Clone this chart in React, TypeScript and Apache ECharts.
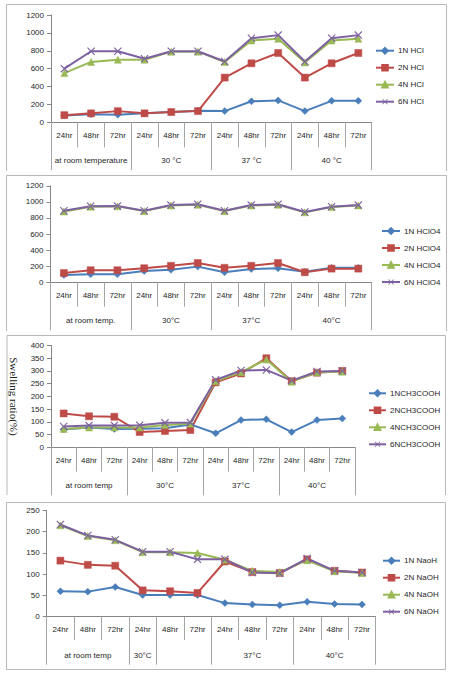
import React, { useEffect, useRef } from "react";
import * as echarts from "echarts";

// ---------- data ----------
const hours = ["24hr", "48hr", "72hr", "24hr", "48hr", "72hr", "24hr", "48hr", "72hr", "24hr", "48hr", "72hr"];

const groupsHCl = ["", "at room temperature", "", "", "30 °C", "", "", "37 °C", "", "", "40 °C", ""];
const groupsHClO4 = ["", "at room temp.", "", "", "30°C", "", "", "37°C", "", "", "40°C", ""];
const groupsCH3 = ["", "at room temp", "", "", "30°C", "", "", "37°C", "", "", "40°C", ""];
const groupsNaOH = ["", "at room temp", "", "30°C", "", "", "", "37°C", "", "", "40°C", ""];
const boundsStd = [0, 3, 6, 9];
const boundsNaOH = [0, 3, 4, 6, 9];

const namesHCl = ["1N HCl", "2N HCl", "4N HCl", "6N HCl"];
const hcl1 = [75, 90, 85, 100, 115, 130, 125, 235, 245, 125, 240, 240];
const hcl2 = [80, 100, 125, 100, 115, 125, 500, 660, 775, 500, 660, 775];
const hcl4 = [550, 675, 700, 700, 790, 790, 675, 915, 935, 670, 915, 935];
const hcl6 = [600, 795, 795, 710, 795, 795, 680, 940, 975, 680, 940, 975];

const namesHClO4 = ["1N HClO4", "2N HClO4", "4N HClO4", "6N HClO4"];
const hclo41 = [90, 100, 100, 140, 155, 195, 125, 165, 175, 130, 180, 180];
const hclo42 = [115, 150, 150, 175, 205, 240, 180, 205, 240, 125, 170, 170];
const hclo44 = [880, 940, 945, 885, 955, 965, 885, 955, 965, 870, 935, 955];
const hclo46 = [890, 945, 950, 890, 960, 970, 890, 960, 970, 875, 940, 960];

const namesCH3 = ["1NCH3COOH", "2NCH3COOH", "4NCH3COOH", "6NCH3COOH"];
const ch1 = [70, 78, 72, 73, 75, 90, 55, 107, 110, 60, 107, 113];
const ch2 = [133, 122, 120, 60, 64, 68, 255, 290, 350, 260, 293, 300];
const ch4 = [72, 78, 78, 78, 88, 93, 260, 295, 345, 258, 295, 297];
const ch6 = [82, 86, 86, 87, 96, 97, 265, 302, 304, 262, 298, 300];

const namesNaOH = ["1N NaoH", "2N NaOH", "4N NaOH", "6N NaOH"];
const na1 = [60, 59, 70, 51, 51, 51, 32, 29, 27, 35, 30, 29];
const na2 = [132, 122, 120, 62, 60, 56, 130, 105, 103, 135, 108, 104];
const na4 = [215, 190, 180, 152, 152, 150, 134, 108, 105, 133, 107, 103];
const na6 = [217, 191, 181, 153, 153, 135, 135, 104, 102, 137, 108, 104];

const yAxisName = "Swelling ratio(%)";

// ---------- styles ----------
const FONT = "Liberation Sans";
const TXT = "#262626";
const AXIS = "#868686";
const TABLE = "#a6a6a6";
const BORDER = "#b8b8b8";
const COLORS = ["#4A7EBB", "#BE4B48", "#98B954", "#7D60A0"];
const XSYM = "path://M1,0 L5,4 L9,0 L10,1 L6,5 L10,9 L9,10 L5,6 L1,10 L0,9 L4,5 L0,1 Z";
const SYMBOLS = ["diamond", "rect", "triangle", XSYM];
const SIZES = [7, 7, 7, 8];

type PanelCfg = {
  grid: { left: number; top: number; width: number; height: number };
  groups: string[];
  bounds: number[];
  ymax: number;
  yint: number;
  names: string[];
  series: number[][];
  legend: { left: number; top: number; itemWidth: number };
  tickLen: number;
  tickMargin: number;
  groupMargin: number;
  yName?: string;
};

const panels: PanelCfg[] = [
  {
    grid: { left: 51, top: 15, width: 320.7, height: 107.3 },
    groups: groupsHCl, bounds: boundsStd, ymax: 1200, yint: 200,
    names: namesHCl, series: [hcl1, hcl2, hcl4, hcl6],
    legend: { left: 375, top: 46.7, itemWidth: 18 },
    tickLen: 25, tickMargin: 9.5, groupMargin: 34.5,
  },
  {
    grid: { left: 50.5, top: 185.8, width: 321.2, height: 96.5 },
    groups: groupsHClO4, bounds: boundsStd, ymax: 1200, yint: 200,
    names: namesHClO4, series: [hclo41, hclo42, hclo44, hclo46],
    legend: { left: 381, top: 227, itemWidth: 18 },
    tickLen: 24.4, tickMargin: 9.4, groupMargin: 34.4,
  },
  {
    grid: { left: 42.3, top: 345.5, width: 312.7, height: 101.8 },
    groups: groupsCH3, bounds: boundsStd, ymax: 400, yint: 50,
    names: namesCH3, series: [ch1, ch2, ch4, ch6],
    legend: { left: 368, top: 389.3, itemWidth: 17 },
    tickLen: 24.4, tickMargin: 8.7, groupMargin: 34.4,
    yName: yAxisName,
  },
  {
    grid: { left: 46.7, top: 510.5, width: 329, height: 106.2 },
    groups: groupsNaOH, bounds: boundsNaOH, ymax: 250, yint: 50,
    names: namesNaOH, series: [na1, na2, na4, na6],
    legend: { left: 382, top: 556.7, itemWidth: 17 },
    tickLen: 23.3, tickMargin: 8.3, groupMargin: 34.3,
  },
];

function buildOption() {
  const grid: any[] = [];
  const xAxis: any[] = [];
  const yAxis: any[] = [];
  const series: any[] = [];
  const legend: any[] = [];

  panels.forEach((p, i) => {
    grid.push({ ...p.grid, containLabel: false });
    // hours row
    xAxis.push({
      type: "category",
      gridIndex: i,
      position: "bottom",
      data: hours,
      boundaryGap: true,
      axisLine: { show: true, lineStyle: { color: AXIS, width: 1 } },
      axisTick: { show: true, interval: 0, alignWithLabel: false, length: p.tickLen, lineStyle: { color: TABLE } },
      axisLabel: { interval: 0, margin: p.tickMargin, fontSize: 8, fontFamily: FONT, color: TXT },
      splitLine: { show: false },
    });
    // group row
    const b = p.bounds;
    xAxis.push({
      type: "category",
      gridIndex: i,
      position: "bottom",
      data: p.groups,
      boundaryGap: true,
      axisLine: { show: false },
      axisTick: {
        show: true,
        interval: (idx: number) => b.indexOf(idx) >= 0,
        alignWithLabel: false,
        length: 48,
        lineStyle: { color: TABLE },
      },
      axisLabel: { interval: 0, margin: p.groupMargin, fontSize: 8, fontFamily: FONT, color: TXT },
      splitLine: { show: false },
    });
    yAxis.push({
      type: "value",
      gridIndex: i,
      min: 0,
      max: p.ymax,
      interval: p.yint,
      axisLine: { show: true, lineStyle: { color: AXIS } },
      axisTick: { show: true, length: 4, lineStyle: { color: AXIS } },
      axisLabel: {
        margin: 7,
        fontSize: 8,
        fontFamily: FONT,
        color: TXT,
        formatter: (v: number) => String(v),
      },
      splitLine: { show: false },
      ...(p.yName
        ? {
            name: p.yName,
            nameLocation: "middle",
            nameRotate: -90,
            nameGap: 32,
            nameTextStyle: { fontFamily: "Liberation Serif", fontSize: 11, color: "#222" },
          }
        : {}),
    });
    p.names.forEach((nm, k) => {
      series.push({
        type: "line",
        name: nm,
        xAxisIndex: i * 2,
        yAxisIndex: i,
        data: p.series[k],
        color: COLORS[k],
        symbol: SYMBOLS[k],
        symbolSize: SIZES[k],
        showSymbol: true,
        lineStyle: { color: COLORS[k], width: 2 },
        itemStyle: { color: COLORS[k], borderColor: COLORS[k], borderWidth: k === 3 ? 0 : 0.5 },
        emphasis: { disabled: true },
      });
    });
    legend.push({
      orient: "vertical",
      left: p.legend.left,
      top: p.legend.top,
      padding: 0,
      itemWidth: p.legend.itemWidth,
      itemHeight: 7,
      itemGap: 9,
      data: p.names,
      selectedMode: false,
      textStyle: { fontSize: 8, fontFamily: FONT, color: TXT, lineHeight: 7, padding: [0, 0, 0, -1] },
    });
  });

  const border = (pts: number[][]) => ({
    type: "polyline",
    shape: { points: pts },
    style: { stroke: BORDER, lineWidth: 1, fill: null },
    silent: true,
  });

  return {
    animation: false,
    backgroundColor: "#ffffff",
    grid,
    xAxis,
    yAxis,
    series,
    legend,
    graphic: [
      border([[6.5, 171], [6.5, 4.5], [446.5, 4.5], [446.5, 171]]),
      border([[6.5, 331], [6.5, 175.5], [446.5, 175.5], [446.5, 331]]),
      border([[7, 495], [7, 335.5], [445.5, 335.5], [445.5, 495]]),
      border([[6.5, 669.5], [6.5, 502.5], [445.5, 502.5], [445.5, 669.5], [6.5, 669.5]]),
    ],
  };
}

export default function App() {
  const ref = useRef<HTMLDivElement>(null);
  useEffect(() => {
    if (!ref.current) return;
    const chart = echarts.init(ref.current, undefined, { renderer: "svg" });
    chart.setOption(buildOption() as any);
    return () => chart.dispose();
  }, []);
  return (
    <div
      ref={ref}
      style={{ position: "fixed", left: 0, top: 0, width: 450, height: 676, background: "#fff" }}
    />
  );
}
